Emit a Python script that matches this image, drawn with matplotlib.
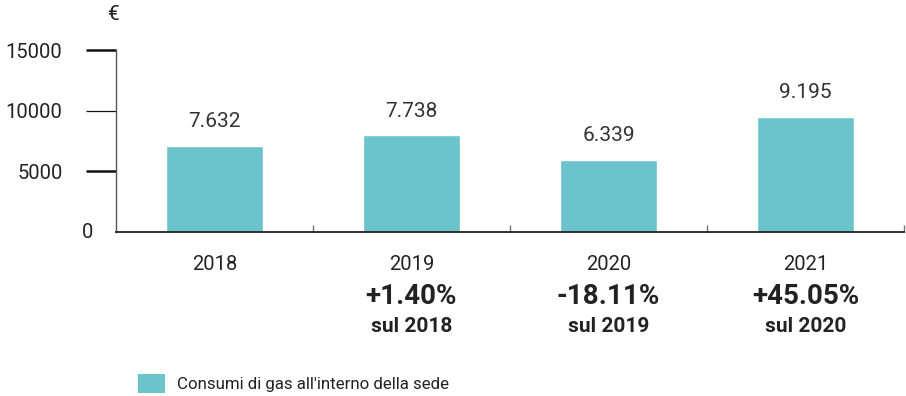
import matplotlib.pyplot as plt
import matplotlib.transforms as mtransforms
from matplotlib.patches import Patch

years = ['2018', '2019', '2020', '2021']
heights = [7070, 7960, 5970, 9480]
value_labels = ['7.632', '7.738', '6.339', '9.195']
pct_labels = ['', '+1.40%', '-18.11%', '+45.05%']
ref_labels = ['', 'sul 2018', 'sul 2019', 'sul 2020']
yticks = [5000, 10000, 15000]
legend_label = "Consumi di gas all'interno della sede"

bar_color = '#6BC4CB'
ink = '#222222'

W, H = 906, 396
fig = plt.figure(figsize=(W / 100, H / 100), dpi=100)
ax = fig.add_axes([116 / W, (H - 232) / H, 788 / W, 182 / H])

x = list(range(len(years)))
ax.bar(x, heights, width=0.49, color=bar_color, edgecolor='white', linewidth=1, zorder=2)

ax.set_xlim(-0.5, len(years) - 0.5)
ax.set_ylim(0, 15000)

for s in ['top', 'right']:
    ax.spines[s].set_visible(False)
ax.spines['left'].set_color('#555555')
ax.spines['left'].set_linewidth(1)
ax.spines['bottom'].set_color(ink)
ax.spines['bottom'].set_linewidth(1.3)

ax.set_yticks(yticks)
ax.set_yticklabels([str(v) for v in yticks], family='Roboto', fontsize=14.5, color=ink)
ax.tick_params(axis='y', length=21.5, width=1, pad=17, color='#111111')
for i, t in enumerate(ax.yaxis.get_major_ticks()):
    t.tick1line.set_markeredgewidth(1.8 if yticks[i] != 10000 else 0.9)

ax.set_xticks([i + 0.5 for i in x])
ax.set_xticklabels([])
ax.tick_params(axis='x', direction='in', length=5, width=1, color='#777777')

ax.text(-0.029, 0, '0', transform=mtransforms.blended_transform_factory(ax.transAxes, ax.transData),
        ha='right', va='center', family='Roboto', fontsize=14.5, color=ink)
fig.text(113 / W, (H - 14) / H, '€', ha='center', va='center', family='Roboto', fontsize=15, color=ink)

for i, h in enumerate(heights):
    ax.annotate(value_labels[i], (i, h), xytext=(0, 13.5), textcoords='offset points',
                ha='center', va='baseline', family='Roboto', fontsize=15, color='#333333')

tr = mtransforms.blended_transform_factory(ax.transData, fig.transFigure)
for i in x:
    ax.text(i, (H - 264) / H, years[i], transform=tr, ha='center', va='center',
            family='Roboto', fontsize=14.5, color=ink)
    if pct_labels[i]:
        ax.text(i, (H - 297) / H, pct_labels[i], transform=tr, ha='center', va='center',
                family='Roboto', fontweight='bold', fontsize=20, color=ink)
        ax.text(i, (H - 326) / H, ref_labels[i], transform=tr, ha='center', va='center',
                family='Roboto', fontweight='bold', fontsize=15, color=ink)

fig.legend(handles=[Patch(facecolor=bar_color, label=legend_label)],
           loc='lower left', bbox_to_anchor=(138 / W, 3 / H), frameon=False,
           prop={'family': 'Roboto', 'size': 12.2}, handlelength=1.6, handleheight=1.35,
           handletextpad=0.7, borderpad=0, borderaxespad=0, labelcolor=ink)

fig.savefig('out.png', dpi=100)
